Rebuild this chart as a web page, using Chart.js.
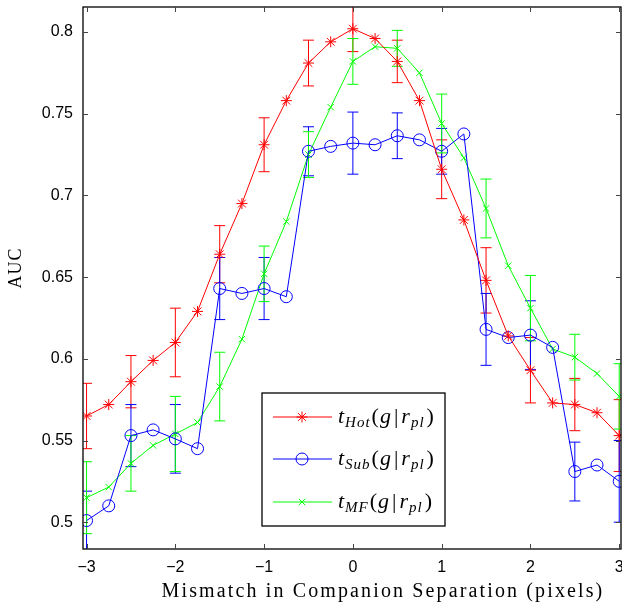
<!DOCTYPE html>
<html lang="en">
<head>
<meta charset="UTF-8">
<title>AUC vs Mismatch in Companion Separation</title>
<style>
  body { margin: 0; background: #fff; }
  #wrap { width: 622px; height: 608px; }
</style>
</head>
<body>
<div id="wrap"><canvas id="aucChart" width="622" height="608"></canvas></div>
<script src="https://cdn.jsdelivr.net/npm/chart.js"></script>
<script>
// separation mismatch (pixels)
const offsets = [-3, -2.75, -2.5, -2.25, -2, -1.75, -1.5, -1.25, -1, -0.75, -0.5, -0.25, 0,
                 0.25, 0.5, 0.75, 1, 1.25, 1.5, 1.75, 2, 2.25, 2.5, 2.75, 3];

const hot = [0.565, 0.572, 0.586, 0.599, 0.610, 0.629, 0.664, 0.695, 0.731, 0.758, 0.781, 0.794, 0.802,
             0.796, 0.782, 0.758, 0.716, 0.685, 0.648, 0.614, 0.593, 0.573, 0.572, 0.567, 0.553];
const hotErr = [0.020, null, 0.016, null, 0.021, null, 0.0175, null, 0.0165, null, 0.014, null, 0.014,
                null, 0.013, null, 0.018, null, 0.020, null, 0.020, null, 0.016, null, 0.022];

const sub = [0.501, 0.510, 0.553, 0.5565, 0.551, 0.545, 0.643, 0.640, 0.643, 0.638, 0.727, 0.730, 0.732,
             0.731, 0.7365, 0.734, 0.727, 0.7376, 0.618, 0.613, 0.6145, 0.607, 0.531, 0.535, 0.525];
const subErr = [0.018, null, 0.019, null, 0.021, null, 0.019, null, 0.019, null, 0.015, null, 0.019,
                null, 0.014, null, 0.014, null, 0.022, null, 0.021, null, 0.018, null, 0.025];

const mf = [0.515, 0.5215, 0.536, 0.547, 0.554, 0.561, 0.583, 0.612, 0.652, 0.684, 0.725, 0.754, 0.782,
            0.791, 0.790, 0.775, 0.744, 0.723, 0.692, 0.657, 0.631, 0.606, 0.601, 0.591, 0.577];
const mfErr = [0.022, null, 0.017, null, 0.023, null, 0.021, null, 0.017, null, 0.014, null, 0.014,
               null, 0.011, null, 0.018, null, 0.018, null, 0.020, null, 0.014, null, 0.020];

const xTicks = [-3, -2, -1, 0, 1, 2, 3];
const yTicks = [0.5, 0.55, 0.6, 0.65, 0.7, 0.75, 0.8];

const legendNames = [
    { base: 't', sub: 'Hot' },
    { base: 't', sub: 'Sub' },
    { base: 't', sub: 'MF' }
];

function pts(ys) {
    return offsets.map((x, i) => ({ x: x, y: ys[i] }));
}

// error bars under the markers
const errorBars = {
    id: 'errorBars',
    beforeDatasetsDraw(chart) {
        const ctx = chart.ctx, xs = chart.scales.x, ys = chart.scales.y, a = chart.chartArea;
        ctx.save();
        ctx.beginPath();
        ctx.rect(a.left, a.top, a.right - a.left, a.bottom - a.top);
        ctx.clip();
        chart.data.datasets.forEach(ds => {
            ctx.strokeStyle = ds.borderColor;
            ctx.lineWidth = 1;
            ds.errs.forEach((e, i) => {
                if (e == null) return;
                const px = xs.getPixelForValue(offsets[i]);
                const top = ys.getPixelForValue(ds.vals[i] + e);
                const bot = ys.getPixelForValue(ds.vals[i] - e);
                ctx.beginPath();
                ctx.moveTo(px, top); ctx.lineTo(px, bot);
                ctx.moveTo(px - 5.5, top); ctx.lineTo(px + 5.5, top);
                ctx.moveTo(px - 5.5, bot); ctx.lineTo(px + 5.5, bot);
                ctx.stroke();
            });
        });
        ctx.restore();
    }
};

// box, inward ticks, axis titles and legend
const frame = {
    id: 'frame',
    afterDraw(chart) {
        const ctx = chart.ctx, xs = chart.scales.x, ys = chart.scales.y, a = chart.chartArea;
        ctx.save();
        ctx.strokeStyle = '#000';
        ctx.lineWidth = 1.3;
        ctx.strokeRect(a.left, a.top, a.right - a.left, a.bottom - a.top);
        ctx.lineWidth = 1;
        ctx.strokeStyle = '#444';
        ctx.beginPath();
        xTicks.forEach(t => {
            const px = Math.round(xs.getPixelForValue(t)) + 0.5;
            ctx.moveTo(px, a.bottom); ctx.lineTo(px, a.bottom - 5);
            ctx.moveTo(px, a.top); ctx.lineTo(px, a.top + 5);
        });
        yTicks.forEach(t => {
            const py = Math.round(ys.getPixelForValue(t)) + 0.5;
            ctx.moveTo(a.left, py); ctx.lineTo(a.left + 5, py);
            ctx.moveTo(a.right, py); ctx.lineTo(a.right - 5, py);
        });
        ctx.stroke();

        // axis titles
        ctx.fillStyle = '#000';
        ctx.font = '20px "Liberation Serif"';
        ctx.textAlign = 'center';
        ctx.textBaseline = 'middle';
        const xTitle = 'Mismatch in Companion Separation (pixels)';
        const w = ctx.measureText(xTitle).width;
        ctx.letterSpacing = Math.max(0, (443 - w) / xTitle.length).toFixed(2) + 'px';
        ctx.fillText(xTitle, 383, 592);
        ctx.letterSpacing = '0px';
        ctx.save();
        ctx.translate(16, 268);
        ctx.rotate(-Math.PI / 2);
        ctx.font = '18px "Liberation Serif"';
        ctx.letterSpacing = '1px';
        ctx.fillText('AUC', 0, 0);
        ctx.letterSpacing = '0px';
        ctx.restore();

        // legend
        const lx = 262, ly = 393, lw = 183, lh = 133;
        ctx.fillStyle = '#fff';
        ctx.fillRect(lx, ly, lw, lh);
        ctx.strokeStyle = '#000';
        ctx.lineWidth = 1.3;
        ctx.strokeRect(lx, ly, lw, lh);
        const rows = [417, 459, 502];
        chart.data.datasets.forEach((ds, i) => {
            const y = rows[i];
            ctx.strokeStyle = ds.borderColor;
            ctx.lineWidth = 1;
            ctx.beginPath();
            ctx.moveTo(273, y); ctx.lineTo(332, y);
            ctx.stroke();
            ctx.fillStyle = 'rgba(0,0,0,0)';
            Chart.helpers.drawPoint(ctx, {
                pointStyle: ds.pointStyle, radius: ds.pointRadius, borderWidth: 1
            }, 302, y);

            ctx.fillStyle = '#000';
            ctx.textAlign = 'left';
            ctx.textBaseline = 'alphabetic';
            let x = 338;
            const base = y + 6;
            // [font, text, baseline shift, space after]
            const seq = [
                ['italic 22px "Liberation Serif"', legendNames[i].base, 0, 1],
                ['italic 15px "Liberation Serif"', legendNames[i].sub, 4, 1],
                ['22px "Liberation Serif"', '(', 0, 1],
                ['italic 22px "Liberation Serif"', 'g', 0, 3],
                ['22px "Liberation Serif"', '|', 0, 3],
                ['italic 22px "Liberation Serif"', 'r', 0, 1],
                ['italic 15px "Liberation Serif"', 'pl', 4, 2],
                ['22px "Liberation Serif"', ')', 0, 0]
            ];
            seq.forEach(([f, s, dy, gap]) => {
                ctx.font = f;
                ctx.letterSpacing = dy ? '1px' : '0px';
                ctx.fillText(s, x, base + dy);
                x += ctx.measureText(s).width + gap;
            });
            ctx.letterSpacing = '0px';
        });
        ctx.restore();
    }
};

new Chart(document.getElementById('aucChart'), {
    type: 'line',
    data: {
        datasets: [
            { label: 't_Hot(g|r_pl)', data: pts(hot), vals: hot, errs: hotErr,
              borderColor: '#ff0000', backgroundColor: 'rgba(0,0,0,0)', pointBorderColor: '#ff0000',
              pointStyle: 'star', pointRadius: 5.5, borderWidth: 1, pointBorderWidth: 1 },
            { label: 't_Sub(g|r_pl)', data: pts(sub), vals: sub, errs: subErr,
              borderColor: '#0000ff', backgroundColor: 'rgba(0,0,0,0)', pointBorderColor: '#0000ff',
              pointStyle: 'circle', pointRadius: 6, borderWidth: 1, pointBorderWidth: 1 },
            { label: 't_MF(g|r_pl)', data: pts(mf), vals: mf, errs: mfErr,
              borderColor: '#00ff00', backgroundColor: 'rgba(0,0,0,0)', pointBorderColor: '#00ff00',
              pointStyle: 'crossRot', pointRadius: 4.5, borderWidth: 1, pointBorderWidth: 1 }
        ]
    },
    options: {
        responsive: false,
        animation: false,
        layout: { autoPadding: false, padding: { left: 0, right: 1, top: 7, bottom: 0 } },
        plugins: { legend: { display: false }, tooltip: { enabled: false } },
        elements: { line: { tension: 0, fill: false } },
        scales: {
            x: {
                type: 'linear', min: -3.04, max: 3.02,
                grid: { display: false, drawTicks: false },
                border: { display: false },
                afterBuildTicks: s => { s.ticks = xTicks.map(v => ({ value: v })); },
                afterFit: s => { s.height = 59; s.paddingLeft = 0; s.paddingRight = 0; },
                ticks: {
                    padding: 9, color: '#000', maxRotation: 0,
                    font: { family: '"Liberation Sans"', size: 16 },
                    callback: v => v < 0 ? '\u2212' + Math.abs(v) : String(v)
                }
            },
            y: {
                min: 0.4836, max: 0.8153,
                grid: { display: false, drawTicks: false },
                border: { display: false },
                afterBuildTicks: s => { s.ticks = yTicks.map(v => ({ value: v })); },
                afterFit: s => { s.width = 83; s.paddingTop = 0; s.paddingBottom = 0; },
                ticks: {
                    padding: 10, color: '#000',
                    font: { family: '"Liberation Sans"', size: 16 },
                    callback: v => String(+v.toFixed(2))
                }
            }
        }
    },
    plugins: [errorBars, frame]
});
</script>
</body>
</html>
